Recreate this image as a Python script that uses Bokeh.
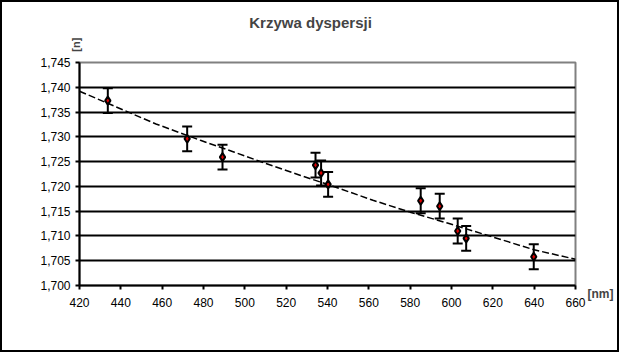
import numpy as np
from bokeh.plotting import figure
from bokeh.models import (Range1d, FixedTicker, CustomJSTickFormatter, ColumnDataSource,
                          Whisker, TeeHead, Label)
from bokeh.embed import file_html
from bokeh.resources import INLINE

# ---- data ----
wavelength_nm = [433.7, 472.1, 489.2, 534.2, 536.9, 540.3, 585.1, 594.3, 603.0, 607.1, 639.8]
n_values = [1.7373, 1.7296, 1.7259, 1.7243, 1.7227, 1.7204, 1.7171, 1.7160, 1.7110, 1.7095, 1.7058]
n_error = [0.0025] * 11

trend_x = [420, 457, 478.5, 495, 509, 527, 541.5, 562, 580, 598, 616, 640, 660]
trend_y = [1.7392, 1.7326, 1.7293, 1.7269, 1.7248, 1.7222, 1.7202, 1.7172, 1.7148, 1.7126, 1.7103, 1.7072, 1.7053]

x_ticks = [420, 440, 460, 480, 500, 520, 540, 560, 580, 600, 620, 640, 660]
y_ticks = [1.700, 1.705, 1.710, 1.715, 1.720, 1.725, 1.730, 1.735, 1.740, 1.745]

title_text = "Krzywa dyspersji"
y_title = "[n]"
x_title = "[nm]"

FONT = "Liberation Sans"

p = figure(width=619, height=352, output_backend="svg", toolbar_location=None,
           x_range=Range1d(420, 660), y_range=Range1d(1.700, 1.745),
           min_border_left=77, min_border_right=46, min_border_top=60, min_border_bottom=69)
p.styles = {"border": "2px solid black"}
p.background_fill_color = "white"
p.border_fill_color = "white"
p.outline_line_color = "#808080"
p.outline_line_width = 2

# grid
p.xgrid.visible = False
p.ygrid.ticker = FixedTicker(ticks=y_ticks[:-1])
p.ygrid.grid_line_color = "black"
p.ygrid.grid_line_width = 2

# axes
for ax in (p.xaxis[0], p.yaxis[0]):
    ax.axis_line_color = "black"
    ax.axis_line_width = 2
    ax.major_tick_line_color = "black"
    ax.major_tick_line_width = 2
    ax.major_tick_out = 4
    ax.major_tick_in = 0
    ax.minor_tick_line_color = None
    ax.major_label_text_font = FONT
    ax.major_label_text_font_size = "12px"
    ax.major_label_text_color = "black"

p.xaxis.ticker = FixedTicker(ticks=x_ticks)
p.yaxis.ticker = FixedTicker(ticks=y_ticks)
p.yaxis.formatter = CustomJSTickFormatter(code="return tick.toFixed(3).replace('.', ',');")
p.xaxis.formatter = CustomJSTickFormatter(code="return tick.toFixed(0);")
p.xaxis.major_label_standoff = 8
p.yaxis.major_label_standoff = 5

# trend line
p.line(trend_x, trend_y, line_color="black", line_width=1.5, line_dash="7 3")

# error bars
src = ColumnDataSource(dict(
    x=wavelength_nm, y=n_values,
    lo=[v - e for v, e in zip(n_values, n_error)],
    hi=[v + e for v, e in zip(n_values, n_error)],
))
w = Whisker(source=src, base="x", upper="hi", lower="lo", dimension="height",
            line_color="black", line_width=2,
            upper_head=TeeHead(size=10, line_width=2, line_color="black"),
            lower_head=TeeHead(size=10, line_width=2, line_color="black"))
p.add_layout(w)

# markers
p.scatter("x", "y", source=src, marker="diamond", size=8,
          fill_color="#e00000", line_color="black", line_width=2)

# texts placed in side panels (so they are not clipped to the plot frame)
p.add_layout(Label(x=531.8, y=1.7531, text=title_text, text_font=FONT, text_font_size="15px",
                   text_font_style="bold", text_align="center", text_baseline="middle"),
             "above")
p.add_layout(Label(x=418.5, y=1.7486, text=y_title, text_font=FONT, text_font_size="11px",
                   text_font_style="bold", text_align="center", text_baseline="middle",
                   angle=np.pi / 2), "left")
p.add_layout(Label(x=672.1, y=1.6982, text=x_title, text_font=FONT, text_font_size="12px",
                   text_font_style="bold", text_align="center", text_baseline="middle"),
             "right")

open("out.html", "w").write(file_html(p, INLINE))
